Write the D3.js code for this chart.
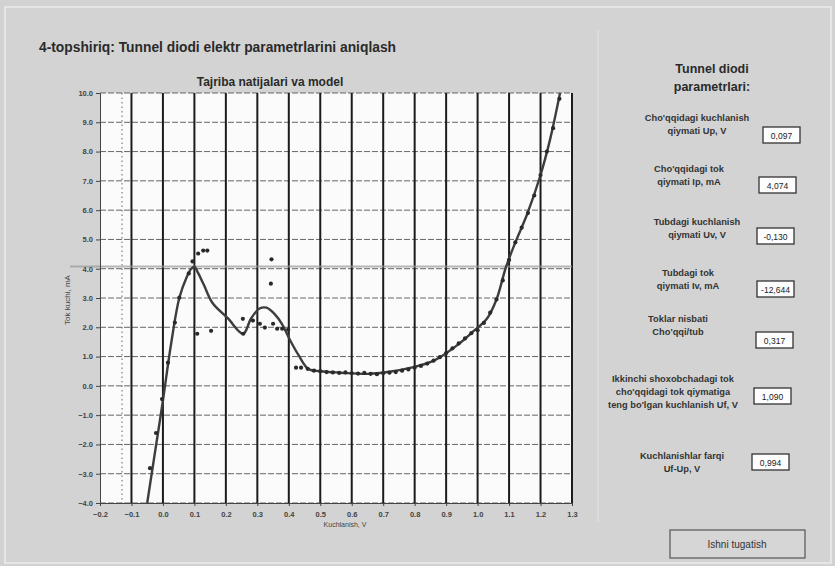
<!DOCTYPE html>
<html><head><meta charset="utf-8">
<script src="https://cdn.jsdelivr.net/npm/d3@7"></script>
<style>
html,body{margin:0;padding:0;background:#d2d2d2;}
svg{display:block;font-family:"Liberation Sans",Arial,sans-serif;}
</style></head>
<body>
<svg id="c" width="835" height="566"></svg>
<script>
// ---- data ----
const xTicks = [-0.2,-0.1,0.0,0.1,0.2,0.3,0.4,0.5,0.6,0.7,0.8,0.9,1.0,1.1,1.2,1.3];
const yTicks = [10,9,8,7,6,5,4,3,2,1,0,-1,-2,-3,-4];
const modelV = [-0.05,-0.03,0.0,0.025,0.052,0.075,0.09,0.1,0.112,0.13,0.157,0.206,0.255,0.28,0.307,0.329,0.355,0.378,0.405,0.432,0.462,0.5,0.566,0.652,0.72,0.789,0.861,0.945,0.982,1.03,1.06,1.09,1.12,1.157,1.2,1.23,1.262];
const modelI = [-4.0,-2.6,-0.5,1.37,3.0,3.7,4.0,4.07,3.85,3.45,2.84,2.31,1.78,2.3,2.64,2.67,2.45,2.12,1.54,1.03,0.58,0.5,0.45,0.41,0.48,0.62,0.86,1.47,1.82,2.3,2.95,4.05,4.9,5.85,7.2,8.4,10.0];
const expV = [-0.041,-0.022,-0.003,0.016,0.038,0.052,0.082,0.094,0.112,0.128,0.141,0.109,0.153,0.255,0.254,0.286,0.308,0.324,0.35,0.345,0.343,0.363,0.379,0.398,0.423,0.439,
  0.46,0.48,0.50,0.52,0.54,0.56,0.58,0.60,0.62,0.64,0.66,0.68,0.70,0.72,0.74,0.76,0.78,0.80,0.82,0.84,0.86,0.88,0.90,0.92,0.94,0.96,0.98,
  1.00,1.02,1.04,1.06,1.08,1.10,1.12,1.14,1.16,1.18,1.20,1.22,1.24,1.26];
const expI = [-2.81,-1.61,-0.45,0.79,2.16,3.01,3.84,4.25,4.52,4.62,4.62,1.78,1.88,1.78,2.29,2.23,2.12,1.99,2.12,4.32,3.49,1.95,1.95,1.92,0.62,0.62,
  0.58,0.52,0.50,0.47,0.46,0.44,0.46,0.43,0.42,0.44,0.41,0.40,0.43,0.45,0.47,0.52,0.56,0.62,0.68,0.76,0.86,0.98,1.12,1.28,1.45,1.62,1.80,
  1.9,2.15,2.5,2.95,3.6,4.3,4.9,5.4,5.9,6.5,7.2,8.0,8.8,9.8];
const Up = 0.097, Ip = 4.074, Uv = -0.130;
const paramLabels = [
  ["Cho'qqidagi kuchlanish","qiymati Up, V"],
  ["Cho'qqidagi tok","qiymati Ip, mA"],
  ["Tubdagi kuchlanish","qiymati Uv, V"],
  ["Tubdagi tok","qiymati Iv, mA"],
  ["Toklar nisbati","Cho'qqi/tub"],
  ["Ikkinchi shoxobchadagi tok","cho'qqidagi tok qiymatiga","teng bo'lgan kuchlanish Uf, V"],
  ["Kuchlanishlar farqi","Uf-Up, V"]
];
const paramValues = ["0,097","4,074","-0,130","-12,644","0,317","1,090","0,994"];

// ---- layout ----
const svg = d3.select("#c");
const L = 100, R = 572, T = 93, B = 503;
const x = d3.scaleLinear().domain([-0.2,1.3]).range([L,R]);
const y = d3.scaleLinear().domain([-4,10]).range([B,T]);

// outer frame
svg.append("rect").attr("x",5).attr("y",7).attr("width",826).attr("height",556)
  .attr("fill","#d3d3d3").attr("stroke","#ececec").attr("stroke-width",1.5);
svg.append("line").attr("x1",598).attr("x2",598).attr("y1",30).attr("y2",522)
  .attr("stroke","#e2e2e2").attr("stroke-width",1.2);

// titles
svg.append("text").attr("x",39).attr("y",52).attr("font-size",13.8).attr("font-weight","bold")
  .attr("fill","#2a2a2a").text("4-topshiriq: Tunnel diodi elektr parametrlarini aniqlash");
svg.append("text").attr("x",270).attr("y",86).attr("text-anchor","middle").attr("font-size",12)
  .attr("font-weight","bold").attr("fill","#2a2a2a").text("Tajriba natijalari va model");

// plot area
svg.append("rect").attr("x",L).attr("y",T).attr("width",R-L).attr("height",B-T).attr("fill","#fbfbfb");

// horizontal grid
svg.append("g").selectAll("line").data(yTicks).join("line")
  .attr("x1",L).attr("x2",R).attr("y1",d=>y(d)).attr("y2",d=>y(d))
  .attr("stroke","#555").attr("stroke-width",0.9).attr("stroke-dasharray","6,2");
// vertical grid
svg.append("g").selectAll("line").data(xTicks.slice(1)).join("line")
  .attr("x1",d=>x(d)).attr("x2",d=>x(d)).attr("y1",T).attr("y2",B)
  .attr("stroke","#1c1c1c").attr("stroke-width",2);
// Uv dotted line, Ip line
svg.append("line").attr("x1",x(Uv)).attr("x2",x(Uv)).attr("y1",T).attr("y2",B)
  .attr("stroke","#666").attr("stroke-width",1).attr("stroke-dasharray","1.5,3");
svg.append("line").attr("x1",L-30).attr("x2",R).attr("y1",y(Ip)).attr("y2",y(Ip))
  .attr("stroke","#999").attr("stroke-width",2).attr("opacity",0.7);

// axes
const yAxis = d3.axisLeft(y).tickValues(yTicks).tickFormat(d3.format(".1f")).tickSize(4);
const gy = svg.append("g").attr("transform",`translate(${L},0)`).call(yAxis);
const xAxis = d3.axisBottom(x).tickValues(xTicks).tickFormat(d3.format(".1f")).tickSize(3);
const gx = svg.append("g").attr("transform",`translate(0,${B})`).call(xAxis);
[gy,gx].forEach(g=>{
  g.select(".domain").attr("stroke","#444");
  g.selectAll(".tick line").attr("stroke","#444");
  g.selectAll("text").attr("font-size",7.5).attr("font-weight","bold").attr("fill","#444")
   .attr("font-family","'Liberation Sans',Arial,sans-serif");
});
gx.selectAll("text").attr("dy","1.1em");

svg.append("text").attr("transform","translate(70,300) rotate(-90)").attr("text-anchor","middle")
  .attr("font-size",8).attr("fill","#444").text("Tok kuchi, mA");
svg.append("text").attr("x",345).attr("y",527).attr("text-anchor","middle")
  .attr("font-size",7).attr("fill","#444").text("Kuchlanish, V");

// model curve
const line = d3.line().x((d,i)=>x(modelV[i])).y((d,i)=>y(modelI[i])).curve(d3.curveCatmullRom.alpha(0.5));
svg.append("path").datum(modelV).attr("d",line).attr("fill","none")
  .attr("stroke","#3d3d3d").attr("stroke-width",2.4);
// experimental points
svg.append("g").selectAll("circle").data(expV).join("circle")
  .attr("cx",d=>x(d)).attr("cy",(d,i)=>y(expI[i])).attr("r",2.1).attr("fill","#2a2a2a");

// right panel
svg.append("text").attr("x",712).attr("y",73).attr("text-anchor","middle").attr("font-size",12.5)
  .attr("font-weight","bold").attr("fill","#2a2a2a").text("Tunnel diodi");
svg.append("text").attr("x",712).attr("y",91).attr("text-anchor","middle").attr("font-size",12.5)
  .attr("font-weight","bold").attr("fill","#2a2a2a").text("parametrlari:");

const labelPos = [
  {cx:697,ty:121,bx:763,by:127},
  {cx:689,ty:172,bx:759,by:177},
  {cx:697,ty:225,bx:757,by:228},
  {cx:688,ty:276,bx:757,by:281},
  {cx:678,ty:322,bx:756,by:332},
  {cx:673,ty:382,bx:754,by:388},
  {cx:682,ty:459,bx:752,by:454}
];
const panel = svg.append("g");
paramLabels.forEach((lines,i)=>{
  const p = labelPos[i];
  lines.forEach((t,j)=>{
    panel.append("text").attr("x",p.cx).attr("y",p.ty+j*13).attr("text-anchor","middle")
      .attr("font-size",9.3).attr("font-weight","bold").attr("fill","#333").text(t);
  });
  panel.append("rect").attr("x",p.bx).attr("y",p.by).attr("width",37).attr("height",16)
    .attr("fill","#fdfdfd").attr("stroke","#333").attr("stroke-width",1.3);
  panel.append("text").attr("x",p.bx+18.5).attr("y",p.by+11.5).attr("text-anchor","middle")
    .attr("font-size",8.5).attr("fill","#222").text(paramValues[i]);
});

// button
svg.append("rect").attr("x",670).attr("y",530).attr("width",135).attr("height",28)
  .attr("fill","#d6d6d6").attr("stroke","#555").attr("stroke-width",1.2);
svg.append("text").attr("x",737).attr("y",548).attr("text-anchor","middle").attr("font-size",10)
  .attr("fill","#333").text("Ishni tugatish");
</script>
</body></html>
